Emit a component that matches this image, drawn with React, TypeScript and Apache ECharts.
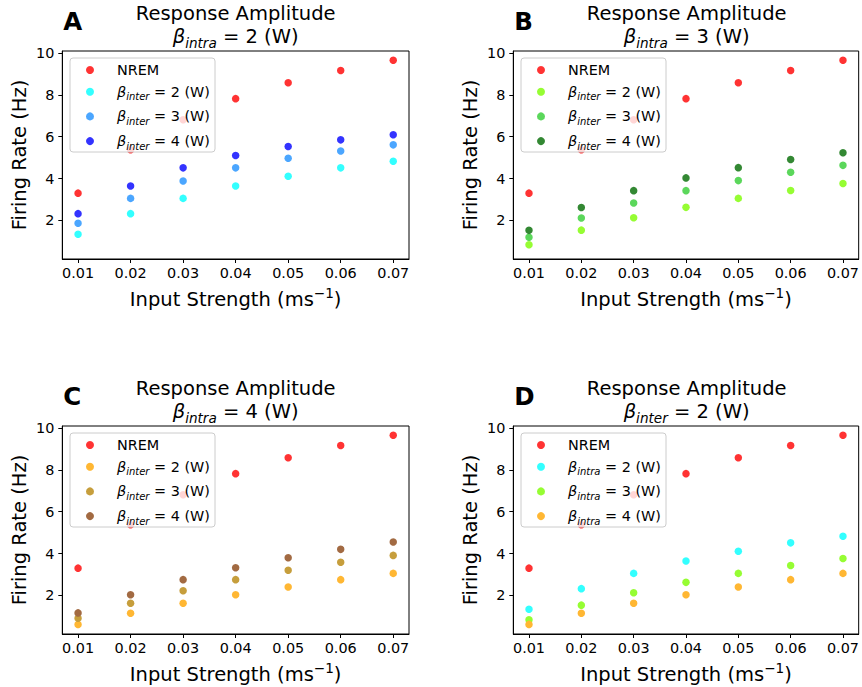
import React, { useEffect, useRef } from "react";
import * as echarts from "echarts";

// ---------- data ----------
const inputStrength = [0.01, 0.02, 0.03, 0.04, 0.05, 0.06, 0.07];
const xTicks = [0.01, 0.02, 0.03, 0.04, 0.05, 0.06, 0.07];
const yTicks = [2, 4, 6, 8, 10];

const nrem = [3.3, 5.38, 6.81, 7.82, 8.58, 9.17, 9.66];

// beta_intra = 2
const intra2Inter2 = [1.33, 2.32, 3.05, 3.64, 4.11, 4.51, 4.83];
const intra2Inter3 = [1.86, 3.05, 3.88, 4.51, 4.97, 5.32, 5.61];
const intra2Inter4 = [2.32, 3.64, 4.51, 5.1, 5.53, 5.85, 6.09];
// beta_intra = 3
const intra3Inter2 = [0.83, 1.53, 2.12, 2.62, 3.05, 3.43, 3.76];
const intra3Inter3 = [1.19, 2.11, 2.83, 3.42, 3.9, 4.3, 4.63];
const intra3Inter4 = [1.52, 2.61, 3.42, 4.03, 4.52, 4.91, 5.23];
// beta_intra = 4
const intra4Inter2 = [0.61, 1.14, 1.62, 2.03, 2.4, 2.75, 3.05];
const intra4Inter3 = [0.9, 1.62, 2.22, 2.75, 3.2, 3.58, 3.91];
const intra4Inter4 = [1.16, 2.03, 2.75, 3.32, 3.8, 4.2, 4.55];

const panelLetters = ["A", "B", "C", "D"];
const panelSubtitles = [
  { sym: "intra", val: "2" },
  { sym: "intra", val: "3" },
  { sym: "intra", val: "4" },
  { sym: "inter", val: "2" },
];
const legendSym = ["inter", "inter", "inter", "intra"];
const legendVals = ["2", "3", "4"];

const panelSeries = [
  [nrem, intra2Inter2, intra2Inter3, intra2Inter4],
  [nrem, intra3Inter2, intra3Inter3, intra3Inter4],
  [nrem, intra4Inter2, intra4Inter3, intra4Inter4],
  [nrem, intra2Inter2, intra3Inter2, intra4Inter2],
];
const panelColors = [
  ["#ff3333", "#33ffff", "#4ba6ff", "#3333ff"],
  ["#ff3333", "#96fd33", "#5bd75b", "#338833"],
  ["#ff3333", "#ffb733", "#c69e3c", "#a26a42"],
  ["#ff3333", "#33ffff", "#96fd33", "#ffb733"],
];

// ---------- layout ----------
const FONT = "DejaVu Sans";
const gridPos = [
  { left: 62.3, top: 51 },
  { left: 513.3, top: 51 },
  { left: 62.3, top: 426 },
  { left: 513.3, top: 426 },
];
const GW = 346.7;
const GH = 208;

function buildOption() {
  const grids: any[] = [];
  const xAxes: any[] = [];
  const yAxes: any[] = [];
  const series: any[] = [];
  const legends: any[] = [];
  const graphics: any[] = [];

  const nameMap: Record<string, string> = {};

  gridPos.forEach((g, i) => {
    grids.push({
      left: g.left,
      top: g.top,
      width: GW,
      height: GH,
      show: true,
      borderColor: "#000",
      borderWidth: 1,
      backgroundColor: "transparent",
    });
    xAxes.push({
      type: "value",
      gridIndex: i,
      min: 0.007,
      max: 0.073,
      name: "{n|Input Strength (ms}{sup|\u22121}{n|)}",
      nameLocation: "middle",
      nameGap: 27,
      nameTextStyle: {
        color: "#000",
        fontFamily: FONT,
        fontSize: 19.5,
        rich: {
          n: { fontFamily: FONT, fontSize: 19.5, lineHeight: 26, color: "#000" },
          sup: {
            fontFamily: FONT,
            fontSize: 13.6,
            lineHeight: 18,
            verticalAlign: "top",
            color: "#000",
          },
        },
      },
      splitLine: { show: false },
      axisLine: { show: true, onZero: false, lineStyle: { color: "#000", width: 1 } },
      axisTick: {
        show: true,
        inside: false,
        length: 4,
        customValues: xTicks,
        lineStyle: { color: "#000", width: 1 },
      },
      axisLabel: {
        customValues: xTicks,
        margin: 7,
        color: "#000",
        fontFamily: FONT,
        fontSize: 14.4,
        formatter: (v: number) => v.toFixed(2),
      },
    });
    yAxes.push({
      type: "value",
      gridIndex: i,
      min: 0.15,
      max: 10.1,
      name: "Firing Rate (Hz)",
      nameLocation: "middle",
      nameRotate: 90,
      nameGap: 29,
      nameTextStyle: {
        color: "#000",
        fontFamily: FONT,
        fontSize: 19.5,
        lineHeight: 26,
      },
      splitLine: { show: false },
      axisLine: { show: true, onZero: false, lineStyle: { color: "#000", width: 1 } },
      axisTick: {
        show: true,
        inside: false,
        length: 4,
        customValues: yTicks,
        lineStyle: { color: "#000", width: 1 },
      },
      axisLabel: {
        customValues: yTicks,
        margin: 8,
        color: "#000",
        fontFamily: FONT,
        fontSize: 14.4,
      },
    });

    const names: string[] = [];
    panelSeries[i].forEach((vals, k) => {
      const nm = `${panelLetters[i]}-${k}`;
      names.push(nm);
      nameMap[nm] =
        k === 0
          ? "{n|NREM}"
          : `{b|\u03b2}{s|${legendSym[i]}}{n| = ${legendVals[k - 1]} (W)}`;
      series.push({
        type: "scatter",
        name: nm,
        xAxisIndex: i,
        yAxisIndex: i,
        symbol: "circle",
        symbolSize: 7.5,
        itemStyle: { color: panelColors[i][k], opacity: 1 },
        z: 2,
        data: inputStrength.map((x, j) => [x, vals[j]]),
      });
    });

    // legend frame (semi-transparent, above the points like matplotlib's)
    graphics.push({
      type: "rect",
      z: 8,
      shape: { x: g.left + 7.7, y: g.top + 7, width: 145, height: 94, r: 3 },
      style: { fill: "rgba(255,255,255,0.8)", stroke: "#cccccc", lineWidth: 1 },
    });

    legends.push({
      data: names,
      orient: "vertical",
      left: g.left + 23.7,
      top: g.top + 12,
      padding: 0,
      itemWidth: 44,
      itemHeight: 8,
      itemGap: 7.7,
      icon: "circle",
      selectedMode: false,
      z: 10,
      formatter: (name: string) => nameMap[name],
      textStyle: {
        color: "#000",
        fontFamily: FONT,
        fontSize: 14.4,
        rich: {
          n: { fontFamily: FONT, fontSize: 14.4, lineHeight: 20, color: "#000" },
          b: {
            fontFamily: FONT,
            fontSize: 14.4,
            lineHeight: 20,
            fontStyle: "italic",
            color: "#000",
          },
          s: {
            fontFamily: FONT,
            fontSize: 10,
            lineHeight: 11,
            fontStyle: "italic",
            verticalAlign: "bottom",
            color: "#000",
          },
        },
      },
    });

    const cx = g.left + GW / 2;
    graphics.push({
      type: "text",
      style: {
        text: "Response Amplitude",
        x: cx,
        y: g.top - 38,
        align: "center",
        verticalAlign: "middle",
        fontFamily: FONT,
        fontSize: 19.5,
        fill: "#000",
      },
    });
    graphics.push({
      type: "text",
      style: {
        text: `{b|\u03b2}{s|${panelSubtitles[i].sym}}{n| = ${panelSubtitles[i].val} (W)}`,
        x: cx,
        y: g.top - 14.5,
        align: "center",
        verticalAlign: "middle",
        fill: "#000",
        fontFamily: FONT,
        fontSize: 19.5,
        rich: {
          n: { fontFamily: FONT, fontSize: 19.5, lineHeight: 26, fill: "#000" },
          b: {
            fontFamily: FONT,
            fontSize: 19.5,
            lineHeight: 26,
            fontStyle: "italic",
            fill: "#000",
          },
          s: {
            fontFamily: FONT,
            fontSize: 13.6,
            lineHeight: 16,
            fontStyle: "italic",
            verticalAlign: "bottom",
            fill: "#000",
          },
        },
      },
    });
    graphics.push({
      type: "text",
      style: {
        text: panelLetters[i],
        x: g.left + 1,
        y: g.top - 30,
        align: "left",
        verticalAlign: "middle",
        fontFamily: FONT,
        fontSize: 24.5,
        fontWeight: "bold",
        fill: "#000",
      },
    });
  });

  return {
    animation: false,
    backgroundColor: "#fff",
    grid: grids,
    xAxis: xAxes,
    yAxis: yAxes,
    legend: legends,
    series,
    graphic: graphics,
  };
}

export default function App() {
  const ref = useRef<HTMLDivElement>(null);
  useEffect(() => {
    if (!ref.current) return;
    const chart = echarts.init(ref.current, null, { renderer: "svg" });
    chart.setOption(buildOption() as any);
    return () => chart.dispose();
  }, []);
  return (
    <div
      ref={ref}
      style={{ position: "absolute", left: 0, top: 0, width: 862, height: 687 }}
    />
  );
}
